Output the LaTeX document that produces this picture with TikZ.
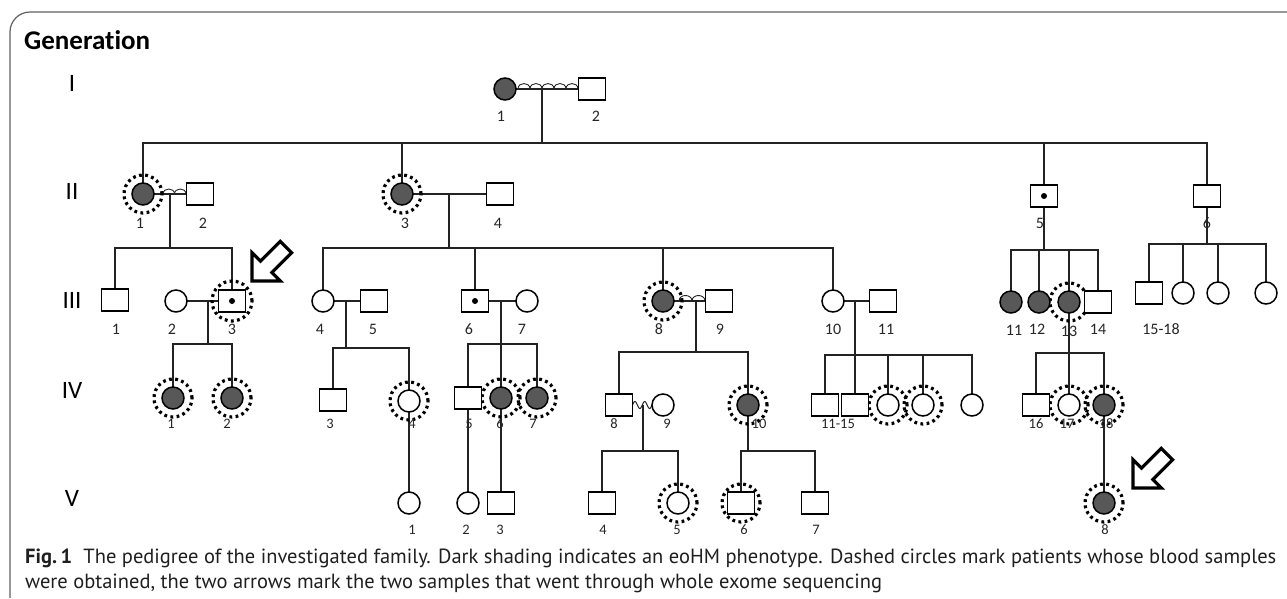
\documentclass[tikz,border=0pt]{standalone}
\usepackage{fontspec}
\usepackage{graphicx}
\setmainfont[Ligatures=NoCommon]{Carlito}
\newfontfamily\capfont{PT Sans}
\usetikzlibrary{backgrounds,calc}
\definecolor{affc}{RGB}{88,88,88}
\definecolor{linc}{RGB}{35,35,35}
\definecolor{frmc}{RGB}{95,95,95}
\newcommand\archrow[5]{% x0, x1, y, n, h
  \pgfmathsetmacro\archw{(#2-#1)/#4}
  \foreach \k in {1,...,#4}{%
    \draw[squig] ({#1+(\k-1)*\archw},#3) .. controls ({#1+(\k-1)*\archw},{#3-#5*1.33}) and ({#1+\k*\archw},{#3-#5*1.33}) .. ({#1+\k*\archw},#3);}}
\begin{document}
\begin{tikzpicture}[x=1pt,y=-1pt,
  ind/.style={draw=black, line width=1.5pt, fill=white, inner sep=0pt, outer sep=0pt},
  male/.style={ind, rectangle, minimum width=27pt, minimum height=22pt},
  fem/.style={ind, circle, minimum size=22pt},
  affd/.style={fill=affc},
  carrier/.style={path picture={\fill[black] (path picture bounding box.center) circle (3pt);}},
  ring/.style={draw=black, line width=3.2pt, dash pattern=on 2.8pt off 3.4pt},
  ln/.style={draw=linc, line width=1.3pt},
  squig/.style={draw=linc, line width=0.9pt},
  lab/.style={font=\fontsize{16}{16}\selectfont, text=black!85, inner sep=0pt},
  labs/.style={font=\fontsize{14.5}{14.5}\selectfont, text=black!85, inner sep=0pt},
  gen/.style={font=\fontsize{25}{25}\selectfont, inner sep=0pt},
  bigarrow/.style={draw=black, line width=3.2pt, fill=white, line join=miter},
  capline/.style={anchor=base west, inner sep=0pt, text=black!88, font=\capfont\fontsize{20.5}{20.5}\selectfont}
]
\useasboundingbox (0,0) rectangle (1287,598);
% frame
\draw[frmc, line width=1.2pt, rounded corners=20pt] (10,598) -- (10,12) -- (1287,12);
\node[anchor=west, inner sep=0pt, font=\fontsize{27}{27}\selectfont\bfseries] (title) at (24,40) {Generation};
% generation numerals
\node[gen] (gI) at (72,83) {I};
\node[gen] (gII) at (72,191) {II};
\node[gen] (gIII) at (72,300) {III};
\node[gen] (gIV) at (72,390) {IV};
\node[gen] (gV) at (72,498) {V};

% ---------- Generation I
\node[fem, affd] (I1) at (505,89) {};
\node[male] (I2) at (592,89) {};
\node[lab] at (501,116) {1};
\node[lab] at (596,116) {2};

% ---------- Generation II
\node[fem, affd] (II1) at (143,194) {};
\node[male] (II2) at (200,194) {};
\node[fem, affd] (II3) at (402,194) {};
\node[male] (II4) at (500,194) {};
\node[male, carrier] (II5) at (1044,196) {};
\node[male] (II6) at (1207,196) {};
\node[lab] at (140,223) {1};
\node[lab] at (203,223) {2};
\node[lab] at (405,223) {3};
\node[lab] at (498,223) {4};
\node[lab] at (1040,223) {5};
\node[lab] at (1207,223) {6};

% ---------- Generation III
\node[male] (III1) at (115,300) {};
\node[fem] (III2) at (176,301) {};
\node[male, carrier] (III3) at (232,301) {};
\node[fem] (III4) at (323,301) {};
\node[male] (III5) at (374,301) {};
\node[male, carrier] (III6) at (475,301) {};
\node[fem] (III7) at (527,301) {};
\node[fem, affd] (III8) at (663,301) {};
\node[male] (III9) at (719,301) {};
\node[fem] (III10) at (833,301) {};
\node[male] (s11) at (883,301) {};
\node[fem, affd] (d11) at (1011,302) {};
\node[fem, affd] (d12) at (1039,302) {};
\node[fem, affd] (d13) at (1069,302) {};
\node[male] (d14) at (1098,302) {};
\node[male] (e15) at (1149,293) {};
\node[fem] (e16) at (1183,293) {};
\node[fem] (e17) at (1218,293) {};
\node[fem] (e18) at (1266,293) {};
\node[lab] at (116,329) {1};
\node[lab] at (172,329) {2};
\node[lab] at (232,329) {3};
\node[lab] at (320,329) {4};
\node[lab] at (373,329) {5};
\node[lab] at (469,329) {6};
\node[lab] at (522,329) {7};
\node[lab] at (659,329) {8};
\node[lab] at (720,329) {9};
\node[lab] at (833,329) {10};
\node[lab] at (886,329) {11};
\node[lab] at (1014,330) {11};
\node[lab] at (1037,329) {12};
\node[lab] at (1069,331) {13};
\node[lab] at (1098,329) {14};
\node[lab] at (1161,329) {15-18};

% ---------- Generation IV
\node[fem, affd] (IV1) at (173,398) {};
\node[fem, affd] (IV2) at (232,398) {};
\node[male] (IV3) at (333,400) {};
\node[fem] (IV4) at (409,401) {};
\node[male] (IV5) at (468,398) {};
\node[fem, affd] (IV6) at (501,398) {};
\node[fem, affd] (IV7) at (537,398) {};
\node[male] (IV8) at (619,405) {};
\node[fem] (IV9) at (663,405) {};
\node[fem, affd] (IV10) at (748,405) {};
\node[male] (IV11) at (825,405) {};
\node[male] (IV12) at (855,405) {};
\node[fem] (IV13) at (888,405) {};
\node[fem] (IV14) at (923,405) {};
\node[fem] (IV15) at (972,405) {};
\node[male] (IV16) at (1036,405) {};
\node[fem] (IV17) at (1069,405) {};
\node[fem, affd] (IV18) at (1104,405) {};
\node[labs] at (171,424) {1};
\node[labs] at (227,424) {2};
\node[labs] at (330,424) {3};
\node[labs] at (412,424) {4};
\node[labs] at (469,424) {5};
\node[labs] at (500,424) {6};
\node[labs] at (533,424) {7};
\node[labs] at (614,424) {8};
\node[labs] at (667,424) {9};
\node[labs] at (759,424) {10};
\node[labs] at (838,424) {11-15};
\node[labs] at (1036,424) {16};
\node[labs] at (1067,424) {17};
\node[labs] at (1106,424) {18};

% ---------- Generation V
\node[fem] (V1) at (409,503) {};
\node[fem] (V2) at (468,503) {};
\node[male] (V3) at (501,503) {};
\node[male] (V4) at (602,503) {};
\node[fem] (V5) at (678,503) {};
\node[male] (V6) at (741,503) {};
\node[male] (V7) at (815,503) {};
\node[fem, affd] (V8) at (1104,503) {};
\node[labs] at (412,530) {1};
\node[labs] at (466,530) {2};
\node[labs] at (500,530) {3};
\node[labs] at (603,530) {4};
\node[labs] at (677,530) {5};
\node[labs] at (744,530) {6};
\node[labs] at (816,530) {7};
\node[labs] at (1105,530) {8};

% junction coordinates
\coordinate (jI) at (542,89);   \coordinate (sII) at (542,143);
\coordinate (j21) at (170,194); \coordinate (s21) at (170,248);
\coordinate (j23) at (449,194); \coordinate (s23) at (449,248);
\coordinate (s25) at (1044,250);
\coordinate (s26) at (1207,244);
\coordinate (j32) at (208,301); \coordinate (s32) at (208,344);
\coordinate (j34) at (346,301); \coordinate (s34) at (346,348);
\coordinate (j36) at (501,301); \coordinate (s36) at (501,344);
\coordinate (j38) at (696,301); \coordinate (s38) at (696,352);
\coordinate (j310) at (855,301); \coordinate (s310) at (855,355);
\coordinate (s313) at (1069,353);
\coordinate (j48) at (643,405); \coordinate (s48) at (643,451);
\coordinate (s410) at (748,451);

\begin{pgfonlayer}{background}
% Gen I
\draw[ln] (I1) -- (I2);
\archrow{518}{578}{89}{5}{5.5}
\draw[ln] (jI) -- (sII);
\draw[ln] (II1.north) |- (sII) -| (II6.north);
\draw[ln] (II3.north) -- (II3.north |- sII);
\draw[ln] (II5.north) -- (II5.north |- sII);
% Gen II families
\draw[ln] (II1) -- (II2);
\archrow{163}{186}{194}{2}{5}
\draw[ln] (j21) -- (s21);
\draw[ln] (III1.north) |- (s21) -| (III3.north);
\draw[ln] (II3) -- (II4);
\draw[ln] (j23) -- (s23);
\draw[ln] (III4.north) |- (s23) -| (III10.north);
\draw[ln] (III6.north) -- (III6.north |- s23);
\draw[ln] (III8.north) -- (III8.north |- s23);
\draw[ln] (II5) -- (s25);
\draw[ln] (d11.north) |- (s25) -| (d14.north);
\draw[ln] (d12.north) -- (d12.north |- s25);
\draw[ln] (d13.north) -- (d13.north |- s25);
\draw[ln] (II6) -- (s26);
\draw[ln] (e15.north) |- (s26) -| (e18.north);
\draw[ln] (e16.north) -- (e16.north |- s26);
\draw[ln] (e17.north) -- (e17.north |- s26);
% Gen III families
\draw[ln] (III2) -- (III3);
\draw[ln] (j32) -- (s32);
\draw[ln] (IV1.north) |- (s32) -| (IV2.north);
\draw[ln] (III4) -- (III5);
\draw[ln] (j34) -- (s34);
\draw[ln] (IV3.north) |- (s34) -| (IV4.north);
\draw[ln] (III6) -- (III7);
\draw[ln] (j36) -- (IV6.north);
\draw[ln] (IV5.north) |- (s36) -| (IV7.north);
\draw[ln] (III8) -- (III9);
\archrow{679}{705}{301}{2}{5.5}
\draw[ln] (j38) -- (s38);
\draw[ln] (IV8.north) |- (s38) -| (IV10.north);
\draw[ln] (III10) -- (s11);
\draw[ln] (j310) -- (IV12.north);
\draw[ln] (IV11.north) |- (s310) -| (IV15.north);
\draw[ln] (IV13.north) -- (IV13.north |- s310);
\draw[ln] (IV14.north) -- (IV14.north |- s310);
\draw[ln] (d13.center) -- (IV17.north);
\draw[ln] (IV16.north) |- (s313) -| (IV18.north);
% Gen IV families
\draw[squig, line width=1pt] plot[domain=632.5:652, samples=40, smooth] (\x, {405 - 3.5*sin(360*(\x-632.5)/9.75)});
\draw[ln] (j48) -- (s48);
\draw[ln] (V4.north) |- (s48) -| (V5.north);
\draw[ln] (IV10) -- (s410);
\draw[ln] (V6.north) |- (s410) -| (V7.north);
\draw[ln] (IV4) -- (V1);
\draw[ln] (IV5) -- (V2);
\draw[ln] (IV6) -- (V3);
\draw[ln] (IV18) -- (V8);
% sample rings
\foreach \n in {II1,II3,III8,d13,IV1,IV2,IV4,IV6,IV7,IV10,IV13,IV14,IV17,IV18,V5,V6,V8}
  \draw[ring] (\n.center) circle (19pt);
\draw[ring] (III3.center) circle (20pt);
\end{pgfonlayer}

% proband arrows
\draw[bigarrow, shift={(252,281)}, rotate=225] (0,0) -- (-20,20) -- (-20,8) -- (-48,8) -- (-48,-8) -- (-20,-8) -- (-20,-20) -- cycle;
\draw[bigarrow, shift={(1133,488)}, rotate=225] (0,0) -- (-20,20) -- (-20,8) -- (-48,8) -- (-48,-8) -- (-20,-8) -- (-20,-20) -- cycle;

% caption
\node[capline] (cap1) at (25,563) {\textbf{Fig.\,1}\hspace{0.55em}The pedigree of the investigated family. Dark shading indicates an eoHM phenotype. Dashed circles mark patients whose blood samples};
\node[capline] (cap2) at (25,588) {were obtained, the two arrows mark the two samples that went through whole exome sequencing};
\end{tikzpicture}
\end{document}
